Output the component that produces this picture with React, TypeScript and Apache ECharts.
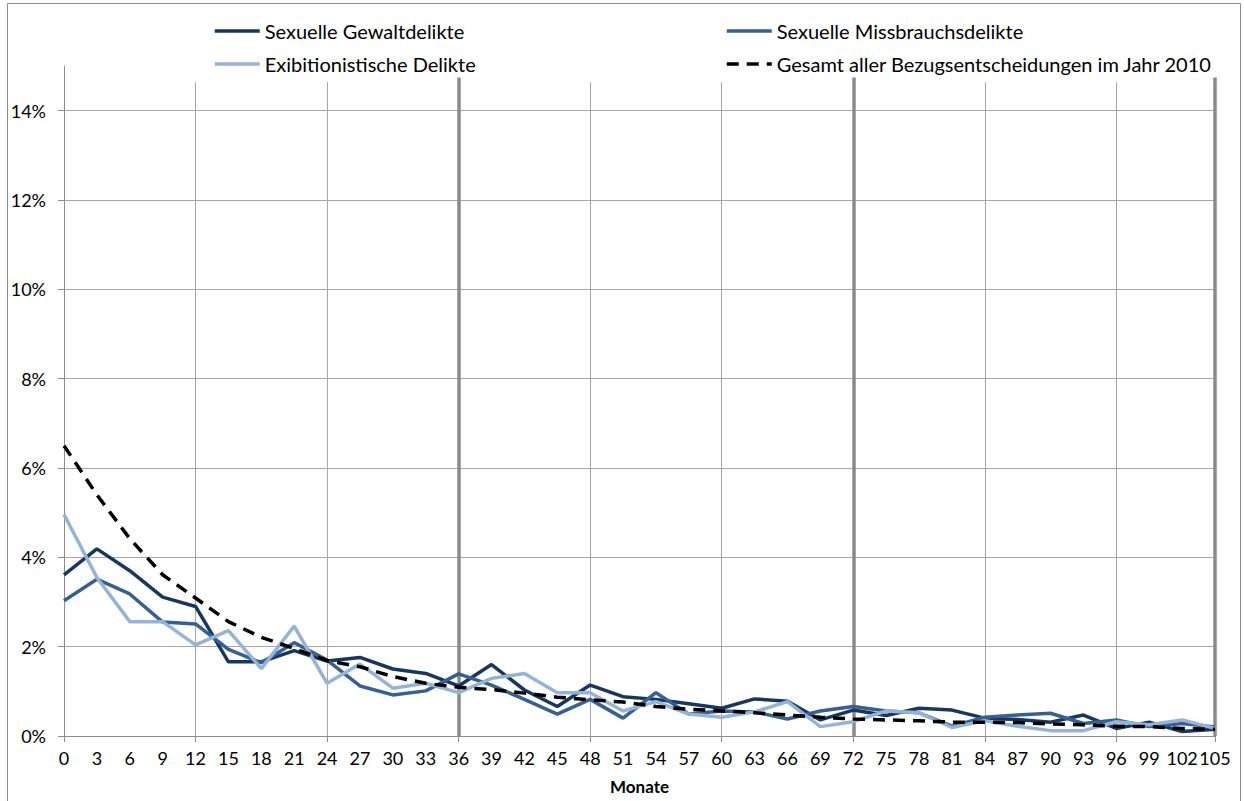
import React, { useEffect, useRef } from 'react';
import * as echarts from 'echarts';

const months = ['0','3','6','9','12','15','18','21','24','27','30','33','36','39','42','45','48','51','54','57','60','63','66','69','72','75','78','81','84','87','90','93','96','99','102','105'];

const gewalt = [3.61,4.19,3.70,3.11,2.90,1.66,1.66,1.91,1.68,1.76,1.50,1.40,1.12,1.60,1.03,0.66,1.14,0.88,0.82,0.72,0.62,0.83,0.78,0.36,0.58,0.46,0.62,0.58,0.40,0.37,0.31,0.47,0.17,0.31,0.10,0.15];
const missbrauch = [3.03,3.51,3.18,2.55,2.51,1.94,1.64,2.09,1.70,1.12,0.92,1.01,1.39,1.14,0.82,0.49,0.82,0.40,0.97,0.49,0.56,0.54,0.38,0.56,0.66,0.56,0.52,0.22,0.42,0.47,0.51,0.28,0.36,0.21,0.28,0.20];
const exhib = [4.96,3.55,2.56,2.56,2.04,2.36,1.51,2.46,1.18,1.61,1.07,1.18,0.97,1.29,1.40,0.97,0.97,0.56,0.77,0.49,0.42,0.54,0.77,0.21,0.32,0.56,0.52,0.19,0.34,0.22,0.12,0.12,0.32,0.25,0.36,0.17];
const gesamt = [6.5,5.4,4.42,3.61,3.09,2.56,2.21,1.96,1.69,1.55,1.33,1.18,1.09,1.04,0.96,0.87,0.81,0.76,0.66,0.60,0.56,0.52,0.47,0.42,0.38,0.36,0.34,0.31,0.31,0.30,0.27,0.25,0.22,0.21,0.17,0.15];

const thinLines = ['12','24','48','60','84','96'];
const thickLines = ['36','72','105'];

const names = [
  'Sexuelle Gewaltdelikte',
  'Sexuelle Missbrauchsdelikte',
  'Exibitionistische Delikte',
  'Gesamt aller Bezugsentscheidungen im Jahr 2010',
];

const FONT = 'Lato';

export default function App() {
  const ref = useRef<HTMLDivElement>(null);
  useEffect(() => {
    if (!ref.current) return;
    const chart = echarts.init(ref.current, undefined, { renderer: 'svg' });
    const legendCommon = {
      padding: 0,
      itemWidth: 45,
      itemHeight: 14,
      selectedMode: false,
      itemStyle: { opacity: 0, borderWidth: 0 },
      lineStyle: { width: 3.5 },
      textStyle: { fontFamily: FONT, fontSize: 20, color: '#000' },
    };
    const lineSeries = (name: string, data: number[], color: string, dashed = false) => ({
      name,
      type: 'line',
      data,
      symbol: 'none',
      z: 5,
      lineStyle: { color, width: 3.5, type: dashed ? [12, 8] : 'solid' },
      itemStyle: { color },
    });
    chart.setOption({
      animation: false,
      backgroundColor: '#fff',
      textStyle: { fontFamily: FONT },
      grid: { left: 64, right: 29, top: 66, bottom: 65, containLabel: false },
      legend: [
        { ...legendCommon, data: [names[0]], left: 213, top: 21 },
        { ...legendCommon, data: [names[1]], left: 725, top: 21 },
        { ...legendCommon, data: [names[2]], left: 213, top: 54 },
        { ...legendCommon, data: [names[3]], left: 725, top: 54 },
      ],
      graphic: [
        {
          type: 'rect',
          shape: { x: 7.5, y: 3.5, width: 1233, height: 830 },
          style: { fill: 'none', stroke: '#8c8c8c', lineWidth: 1 },
          silent: true,
        },
      ],
      xAxis: {
        type: 'category',
        data: months,
        boundaryGap: false,
        name: 'Monate',
        nameLocation: 'middle',
        nameGap: 42,
        nameTextStyle: { fontFamily: FONT, fontSize: 17, fontWeight: 'bold', color: '#000' },
        axisLine: { lineStyle: { color: '#8c8c8c', width: 1 } },
        axisTick: { show: true, interval: 3, length: 6, lineStyle: { color: '#8c8c8c' } },
        axisLabel: { interval: 0, margin: 13, fontFamily: FONT, fontSize: 18, color: '#000' },
        splitLine: { show: false },
      },
      yAxis: {
        type: 'value',
        min: 0,
        max: 15,
        interval: 2,
        axisLine: { show: true, lineStyle: { color: '#8c8c8c', width: 1 } },
        axisTick: { show: true, length: 6, lineStyle: { color: '#8c8c8c' } },
        axisLabel: {
          showMaxLabel: false,
          margin: 18,
          fontFamily: FONT,
          fontSize: 18,
          color: '#000',
          formatter: (v: number) => (v % 2 === 0 ? v + '%' : ''),
        },
        splitLine: { show: true, showMaxLine: false, lineStyle: { color: '#a6a6a6', width: 1 } },
      },
      series: [
        {
          name: 'grid',
          type: 'line',
          data: [],
          z: 1,
          silent: true,
          markLine: {
            silent: true,
            symbol: ['none', 'none'],
            label: { show: false },
            animation: false,
            data: [
              ...thinLines.map((c) => [
                { xAxis: c, yAxis: 0, lineStyle: { color: '#a6a6a6', width: 1, type: 'solid' } },
                { xAxis: c, yAxis: 14.64 },
              ]),
              ...thickLines.map((c) => [
                { xAxis: c, yAxis: 0, lineStyle: { color: '#8a8a8a', width: 3.5, type: 'solid' } },
                { xAxis: c, yAxis: 14.74 },
              ]),
            ],
          },
        },
        lineSeries(names[0], gewalt, '#17375E'),
        lineSeries(names[1], missbrauch, '#376092'),
        lineSeries(names[2], exhib, '#95B3D7'),
        lineSeries(names[3], gesamt, '#000000', true),
      ],
    });
    return () => chart.dispose();
  }, []);
  return (
    <div
      ref={ref}
      style={{ position: 'fixed', left: 0, top: 0, width: 1244, height: 801, background: '#fff' }}
    />
  );
}
